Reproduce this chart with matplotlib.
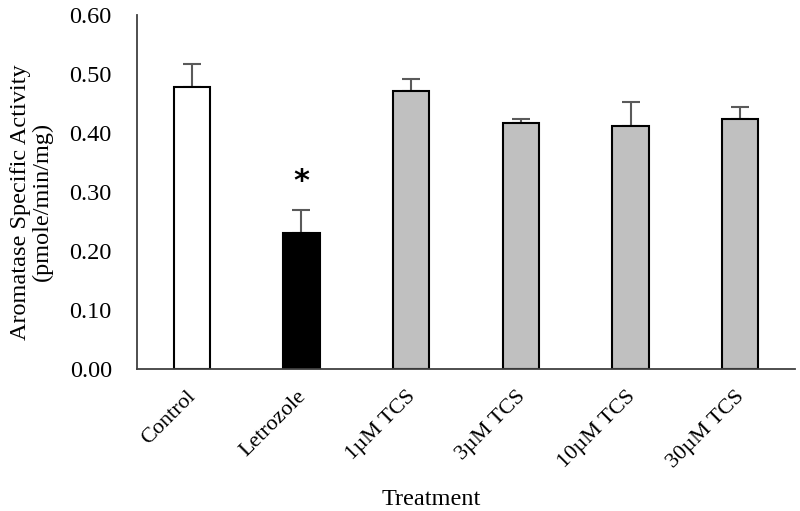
import matplotlib

matplotlib.use('Agg')

import matplotlib.pyplot as plt
import matplotlib.transforms as mtransforms
import numpy as np

plt.rcParams['font.family'] = ['Liberation Serif', 'DejaVu Serif']

treatments = ['Control', 'Letrozole', '1\u00b5M TCS', '3\u00b5M TCS', '10\u00b5M TCS', '30\u00b5M TCS']
activity = [0.477, 0.231, 0.471, 0.417, 0.412, 0.423]
sem = [0.039, 0.039, 0.021, 0.006, 0.041, 0.021]
fills = ['white', 'black', '#c0c0c0', '#c0c0c0', '#c0c0c0', '#c0c0c0']
signif = ['', '*', '', '', '', '']

fig = plt.figure(figsize=(8, 5.11), dpi=100)
ax = fig.add_axes([0.171, 0.278, 0.823, 0.693])

x = np.arange(len(treatments))
ax.bar(x, activity, width=0.33, color=fills, edgecolor='black', linewidth=1.5, zorder=2)
ax.errorbar(x, activity, yerr=[np.zeros(len(sem)), sem], fmt='none', ecolor='#5a5a5a',
            elinewidth=1.5, capsize=6.5, capthick=1.5, zorder=1)

for xi, v, e, s in zip(x, activity, sem, signif):
    if s:
        ax.text(xi, v + e + 0.047, s, ha='center', va='center', fontsize=22,
                fontfamily='DejaVu Sans', fontweight='bold')

ax.set_xlim(-0.5, 5.5)
ax.set_ylim(0, 0.6)
ax.set_yticks(np.arange(0, 0.61, 0.1))
ax.set_yticklabels(['%.2f' % t for t in np.arange(0, 0.61, 0.1)], fontsize=17.5)
ax.set_xticks(x)
ax.set_xticklabels(treatments, rotation=45, ha='right', rotation_mode='anchor', fontsize=16)
ax.tick_params(axis='y', length=0, pad=18)
ax.tick_params(axis='x', length=0, pad=13)

# nudge the slanted category labels a little to the left
shift = mtransforms.ScaledTranslation(-5 / 100, 0, fig.dpi_scale_trans)
for lbl in ax.get_xticklabels():
    lbl.set_transform(lbl.get_transform() + shift)

for side in ['top', 'right']:
    ax.spines[side].set_visible(False)
for side in ['left', 'bottom']:
    ax.spines[side].set_color('#404040')
    ax.spines[side].set_linewidth(1.3)

ax.set_ylabel('Aromatase Specific Activity\n(pmole/min/mg)', fontsize=17.5, linespacing=1.0)
ax.yaxis.set_label_coords(-0.128, 0.472)
ax.set_xlabel('Treatment', fontsize=17.5)
ax.xaxis.set_label_coords(0.447, -0.339)

fig.savefig('out.png', dpi=100)
